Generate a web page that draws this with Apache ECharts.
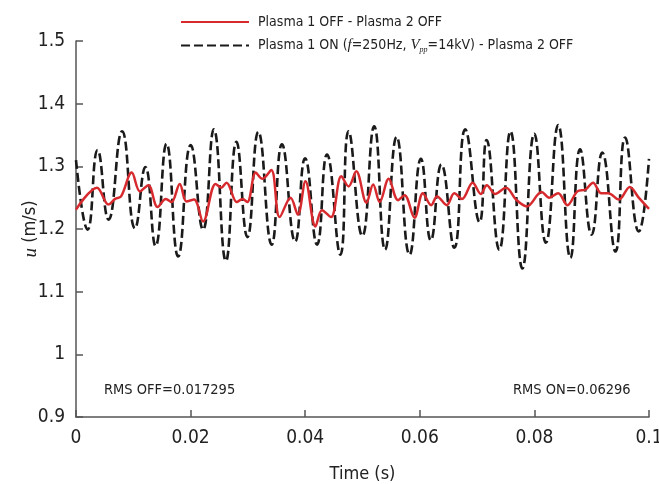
<!DOCTYPE html>
<html>
<head>
<meta charset="utf-8">
<script src="https://cdn.jsdelivr.net/npm/echarts@6/dist/echarts.min.js"></script>
<style>
  html, body { margin: 0; padding: 0; background: #fff; }
  #chart { width: 659px; height: 484px; }
</style>
</head>
<body>
<div id="chart"></div>
<script>
var FONT = '"Liberation Sans Narrow", "DejaVu Sans Condensed", sans-serif';
var SERIF = '"Liberation Serif", "DejaVu Serif", serif';

var OFF_NAME = 'Plasma 1 OFF - Plasma 2 OFF';
var ON_NAME = 'Plasma 1 ON (f=250Hz, Vpp=14kV) - Plasma 2 OFF';

// [time (s), u (m/s)]
var offTime = [0, 0.00365, 0.00568, 0.00682, 0.00786, 0.00972, 0.01116, 0.01262, 0.01424, 0.01568,
  0.01667, 0.01811, 0.01927, 0.02061, 0.02217, 0.02436, 0.02535, 0.02627, 0.02807, 0.02905,
  0.02991, 0.03137, 0.03252, 0.03408, 0.03554, 0.03745, 0.03872, 0.04005, 0.04179, 0.04293,
  0.0445, 0.0463, 0.04757, 0.04891, 0.05069, 0.05186, 0.053, 0.05457, 0.0562, 0.05734,
  0.05908, 0.06054, 0.06198, 0.06302, 0.0647, 0.06602, 0.06736, 0.06922, 0.07066, 0.0717,
  0.07314, 0.07505, 0.07679, 0.0787, 0.08125, 0.08259, 0.08415, 0.08576, 0.0875, 0.08894,
  0.09023, 0.09167, 0.09288, 0.09474, 0.09665, 0.09821, 0.1];
var offU = [1.231, 1.266, 1.239, 1.248, 1.252, 1.29, 1.26, 1.27, 1.235, 1.248,
  1.243, 1.272, 1.244, 1.247, 1.212, 1.272, 1.266, 1.274, 1.243, 1.248,
  1.243, 1.29, 1.28, 1.294, 1.219, 1.25, 1.223, 1.276, 1.204, 1.23,
  1.219, 1.284, 1.268, 1.292, 1.242, 1.271, 1.243, 1.28, 1.246, 1.254,
  1.218, 1.257, 1.238, 1.252, 1.238, 1.257, 1.248, 1.274, 1.256, 1.27,
  1.256, 1.266, 1.247, 1.236, 1.259, 1.25, 1.257, 1.238, 1.26, 1.263,
  1.274, 1.257, 1.257, 1.247, 1.267, 1.25, 1.232];

var onTime = [0, 0.00203, 0.00377, 0.00568, 0.00804, 0.0103, 0.0121, 0.01389, 0.0158, 0.01783,
  0.02002, 0.02217, 0.02405, 0.02616, 0.028, 0.02991, 0.03182, 0.03415, 0.03594, 0.03825,
  0.03998, 0.04207, 0.0438, 0.04613, 0.04757, 0.04997, 0.05203, 0.05394, 0.05595, 0.05821,
  0.06019, 0.06193, 0.06377, 0.06602, 0.06793, 0.07043, 0.07165, 0.07387, 0.07582, 0.0779,
  0.07998, 0.082, 0.08415, 0.08628, 0.08797, 0.08998, 0.09184, 0.09415, 0.09583, 0.09821, 0.1];
var onU = [1.31, 1.199, 1.326, 1.215, 1.356, 1.201, 1.299, 1.173, 1.336, 1.156,
  1.334, 1.199, 1.359, 1.149, 1.339, 1.187, 1.355, 1.175, 1.335, 1.18,
  1.313, 1.175, 1.319, 1.159, 1.356, 1.189, 1.364, 1.167, 1.347, 1.159,
  1.312, 1.182, 1.303, 1.17, 1.359, 1.211, 1.342, 1.167, 1.356, 1.137,
  1.352, 1.178, 1.366, 1.154, 1.327, 1.191, 1.322, 1.164, 1.346, 1.196, 1.312];

var rmsOffText = 'RMS OFF=0.017295';
var rmsOnText = 'RMS ON=0.06296';

function pairs(xs, ys) {
  var out = [];
  for (var i = 0; i < xs.length; i++) out.push([xs[i], ys[i]]);
  return out;
}

var axisColor = '#555';
var textColor = '#222';

var option = {
  animation: false,
  textStyle: { fontFamily: FONT },
  grid: { left: 76, right: 10, top: 41, bottom: 67, outerBoundsMode: 'none', containLabel: false },
  legend: {
    orient: 'vertical',
    left: 175,
    top: 10,
    itemWidth: 68,
    itemHeight: 12,
    itemGap: 9,
    itemStyle: { opacity: 0 },
    data: [OFF_NAME, ON_NAME],
    formatter: function (name) {
      if (name === ON_NAME) {
        return 'Plasma 1 ON ({it|f}=250Hz, {it|V}{sub|pp}=14kV) - Plasma 2 OFF';
      }
      return name;
    },
    textStyle: {
      fontFamily: FONT,
      fontSize: 14,
      color: textColor,
      padding: [0, 0, 0, 4],
      rich: {
        it: { fontFamily: SERIF, fontStyle: 'italic', fontSize: 15, color: textColor },
        sub: { fontFamily: SERIF, fontStyle: 'italic', fontSize: 8, color: textColor, verticalAlign: 'bottom', padding: [8, 0, 0, 0] }
      }
    }
  },
  xAxis: {
    type: 'value',
    min: 0,
    max: 0.1,
    interval: 0.02,
    name: 'Time (s)',
    nameLocation: 'middle',
    nameGap: 48,
    nameMoveOverlap: false,
    nameTextStyle: { fontFamily: FONT, fontSize: 18, color: textColor },
    axisLine: { lineStyle: { color: axisColor, width: 1.5 } },
    axisTick: { inside: true, length: 7, lineStyle: { color: axisColor, width: 1.5 } },
    axisLabel: { fontFamily: FONT, fontSize: 19, color: textColor, margin: 12 },
    splitLine: { show: false }
  },
  yAxis: {
    type: 'value',
    min: 0.9,
    max: 1.5,
    interval: 0.1,
    name: '{it|u} (m/s)',
    nameLocation: 'middle',
    nameRotate: 90,
    nameGap: 36,
    nameMoveOverlap: false,
    nameTextStyle: {
      fontFamily: FONT, fontSize: 18, color: textColor,
      rich: { it: { fontFamily: SERIF, fontStyle: 'italic', fontSize: 19, color: textColor } }
    },
    axisLine: { show: true, lineStyle: { color: axisColor, width: 1.5 } },
    axisTick: { show: true, inside: true, length: 7, lineStyle: { color: axisColor, width: 1.5 } },
    axisLabel: { fontFamily: FONT, fontSize: 19, color: textColor, margin: 11 },
    splitLine: { show: false }
  },
  graphic: [
    { type: 'text', left: 104, top: 383, style: { text: rmsOffText, font: '14.5px ' + FONT, fill: textColor } },
    { type: 'text', left: 513, top: 383, style: { text: rmsOnText, font: '14.5px ' + FONT, fill: textColor } }
  ],
  series: [
    {
      name: ON_NAME,
      type: 'line',
      data: pairs(onTime, onU),
      showSymbol: false,
      symbol: 'none',
      smooth: 0.5,
      z: 2,
      lineStyle: { color: '#1a1a1a', width: 2.6, type: [9, 4] },
      itemStyle: { color: '#1a1a1a' }
    },
    {
      name: OFF_NAME,
      type: 'line',
      data: pairs(offTime, offU),
      showSymbol: false,
      symbol: 'none',
      smooth: 0.35,
      z: 3,
      lineStyle: { color: '#d62a2e', width: 2.5 },
      itemStyle: { color: '#d62a2e' }
    }
  ]
};

var chart = echarts.init(document.getElementById('chart'), null, { renderer: 'canvas' });
chart.setOption(option);
</script>
</body>
</html>
